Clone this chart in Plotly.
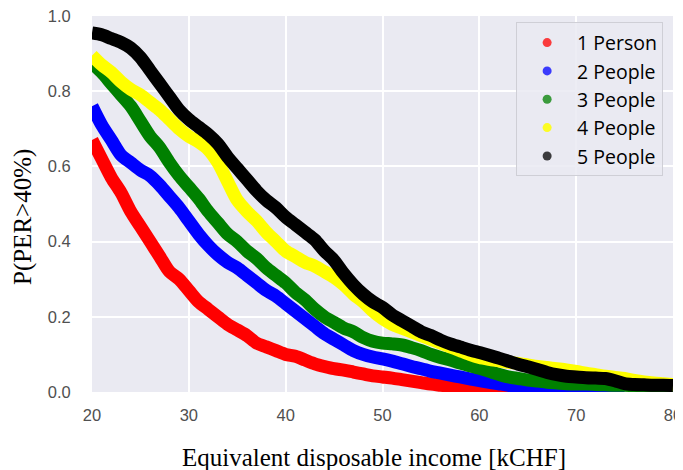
import plotly.graph_objects as go

income = list(range(20, 81))

p1 = [0.67, 0.62, 0.57, 0.53, 0.48, 0.44, 0.40, 0.36, 0.32, 0.30,
      0.27, 0.24, 0.22, 0.20, 0.18, 0.165, 0.15, 0.13, 0.12, 0.11,
      0.10, 0.095, 0.085, 0.075, 0.068, 0.062, 0.058, 0.053, 0.048, 0.043,
      0.04, 0.037, 0.033, 0.029, 0.025, 0.021, 0.018, 0.015, 0.012, 0.010,
      0.008, 0.006, 0.005, 0.004, 0.004, 0.003, 0.003, 0.002, 0.002, 0.002,
      0.002]
p2 = [0.76, 0.71, 0.67, 0.63, 0.61, 0.59, 0.575, 0.55, 0.52, 0.49,
      0.455, 0.42, 0.39, 0.365, 0.345, 0.33, 0.31, 0.29, 0.27, 0.255,
      0.235, 0.215, 0.195, 0.175, 0.155, 0.14, 0.125, 0.11, 0.10, 0.093,
      0.088, 0.082, 0.075, 0.068, 0.062, 0.055, 0.05, 0.045, 0.04, 0.035,
      0.03, 0.026, 0.022, 0.018, 0.015, 0.012, 0.010, 0.008, 0.007, 0.006,
      0.005, 0.005, 0.004, 0.004, 0.003, 0.003]
p3 = [0.875, 0.85, 0.82, 0.79, 0.76, 0.72, 0.68, 0.65, 0.61, 0.575,
      0.545, 0.515, 0.48, 0.45, 0.42, 0.40, 0.375, 0.355, 0.33, 0.31,
      0.29, 0.265, 0.245, 0.22, 0.20, 0.185, 0.17, 0.16, 0.145, 0.135,
      0.13, 0.128, 0.125, 0.118, 0.11, 0.10, 0.092, 0.085, 0.077, 0.07,
      0.063, 0.055, 0.047, 0.04, 0.036, 0.032, 0.029, 0.026, 0.024, 0.022,
      0.021, 0.021, 0.02, 0.019, 0.018, 0.018, 0.017, 0.017, 0.016, 0.016,
      0.015]
p4 = [0.895, 0.87, 0.85, 0.825, 0.805, 0.79, 0.77, 0.75, 0.725, 0.70,
      0.68, 0.665, 0.645, 0.61, 0.56, 0.51, 0.48, 0.455, 0.425, 0.40,
      0.375, 0.36, 0.345, 0.335, 0.32, 0.305, 0.285, 0.26, 0.24, 0.215,
      0.195, 0.18, 0.17, 0.16, 0.15, 0.14, 0.13, 0.12, 0.11, 0.10,
      0.092, 0.087, 0.083, 0.079, 0.076, 0.072, 0.068, 0.065, 0.062, 0.059,
      0.055, 0.05, 0.046, 0.042, 0.039, 0.036, 0.031, 0.027, 0.024, 0.022,
      0.02]
p5 = [0.955, 0.95, 0.94, 0.93, 0.915, 0.89, 0.855, 0.82, 0.785, 0.75,
      0.725, 0.705, 0.685, 0.66, 0.625, 0.595, 0.565, 0.535, 0.51, 0.49,
      0.465, 0.445, 0.425, 0.405, 0.375, 0.35, 0.315, 0.285, 0.26, 0.24,
      0.225, 0.205, 0.19, 0.175, 0.16, 0.15, 0.138, 0.128, 0.12, 0.112,
      0.105, 0.098, 0.09, 0.082, 0.074, 0.067, 0.06, 0.052, 0.046, 0.042,
      0.04, 0.038, 0.037, 0.036, 0.03, 0.022, 0.02, 0.019, 0.018, 0.018,
      0.017]

names = ["1 Person", "2 People", "3 People", "4 People", "5 People"]
series = [p1, p2, p3, p4, p5]
colors = ["#ff0000", "#0000ff", "#008000", "#ffff00", "#000000"]
legend_colors = ["rgba(255,0,0,0.75)", "rgba(0,0,255,0.75)", "rgba(0,128,0,0.75)",
                 "rgba(255,255,0,0.85)", "rgba(0,0,0,0.75)"]

fig = go.Figure()
for name, vals, c in zip(names, series, colors):
    fig.add_trace(go.Scatter(
        x=income[:len(vals)], y=vals, mode="lines",
        line=dict(color=c, width=13, shape="spline", smoothing=0.8),
        showlegend=False, hoverinfo="skip"))
for name, lc in zip(names, legend_colors):
    fig.add_trace(go.Scatter(
        x=[None], y=[None], mode="markers", name=name,
        marker=dict(color=lc, size=9)))

tickfont = dict(family="Liberation Sans, Arial", size=16.5, color="#505050")
serif = dict(family="Liberation Serif, Times New Roman", size=25, color="#000")
fig.update_layout(
    width=675, height=462,
    margin=dict(l=84, r=10, t=8, b=78, autoexpand=False),
    paper_bgcolor="white", plot_bgcolor="#eaeaf2",
    legend=dict(x=0.983, xanchor="right", y=0.983, yanchor="top",
                bgcolor="rgba(234,234,242,0.85)", bordercolor="#cfcfd6",
                borderwidth=1, tracegroupgap=0,
                font=dict(family="Open Sans, Liberation Sans", size=19.5, color="#000"),
                itemwidth=50),
    annotations=[
        dict(text="Equivalent disposable income [kCHF]", xref="paper", yref="paper",
             x=0.485, y=-0.173, xanchor="center", yanchor="middle",
             showarrow=False, font=serif),
        dict(text="P(PER>40%)", xref="paper", yref="paper",
             x=-0.119, y=0.465, xanchor="center", yanchor="middle",
             textangle=-90, showarrow=False, font=serif),
    ],
)
fig.update_xaxes(range=[20, 80], tickvals=[20, 30, 40, 50, 60, 70, 80],
                 showgrid=True, gridcolor="white", gridwidth=1.5, zeroline=False,
                 showline=False, ticks="outside", ticklen=8, tickcolor="rgba(0,0,0,0)",
                 tickfont=tickfont, automargin=False, ticklabeloverflow="allow")
fig.update_yaxes(range=[0, 1.0], tickvals=[0, 0.2, 0.4, 0.6, 0.8, 1.0], tickformat=".1f",
                 showgrid=True, gridcolor="white", gridwidth=1.5, zeroline=False,
                 showline=False, ticks="outside", ticklen=17, tickcolor="rgba(0,0,0,0)",
                 tickfont=tickfont, automargin=False, ticklabeloverflow="allow")

fig.write_html("out.html")
